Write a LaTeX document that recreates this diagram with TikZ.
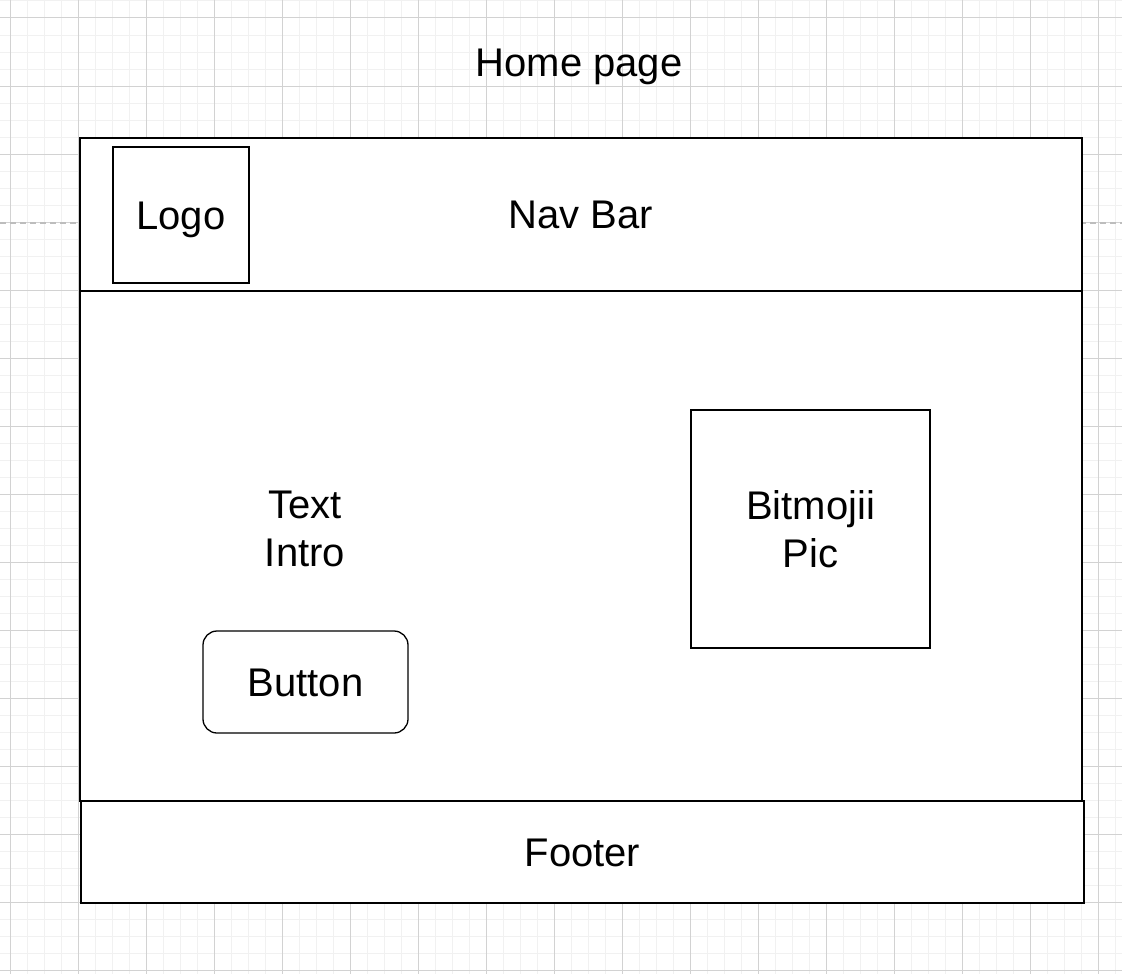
\documentclass[tikz,border=0pt]{standalone}
\usepackage{fontspec}
\setmainfont{Liberation Sans}
\newcommand\wirefont{\fontsize{40}{48}\selectfont}
\definecolor{gridminor}{HTML}{F1F1F1}
\definecolor{gridmajor}{HTML}{D2D2D2}
\definecolor{pagebreak}{HTML}{BDBDBD}
\begin{document}
\begin{tikzpicture}[x=1pt,y=-1pt,
  frame/.style={draw=black, fill=white, line width=1.3pt, inner sep=0pt, align=center, font=\wirefont},
  label/.style={inner sep=0pt, align=center, font=\wirefont},
  oneline/.style={text height=28.8pt, text depth=0pt},
  minorline/.style={draw=gridminor, line width=1pt},
  majorline/.style={draw=gridmajor, line width=1pt}]
\useasboundingbox (0,0) rectangle (1122,974);
\fill[white] (0,0) rectangle (1122,974);
% background grid
\foreach \i in {0,...,66} \draw[minorline] ({10+17.0125*(\i-1)},0) -- ++(0,974);
\foreach \i in {0,...,58} \draw[minorline] (0,{18+17.0125*(\i-1)}) -- ++(1122,0);
\foreach \i in {0,...,16} \draw[majorline] ({10+68.05*\i},0) -- ++(0,974);
\foreach \i in {0,...,14} \draw[majorline] (0,{18+68.05*\i}) -- ++(1122,0);
% page break marker
\coordinate (breakL) at (0,223);
\coordinate (breakR) at (1122,223);
\draw[pagebreak, line width=1.3pt, dash pattern=on 6pt off 4pt] (breakL) -- (breakR);
% page title
\node[label, oneline] (title) at (579,62) {Home page};
% page sections
\node[frame, oneline, minimum width=1002, minimum height=153] (nav) at (581,214.5) {Nav Bar};
\node[frame, minimum width=1002, minimum height=510] (body) at (581,546) {};
\node[frame, oneline, minimum width=1003, minimum height=102] (footer) at (582.5,852) {Footer};
% nav bar content
\node[frame, oneline, minimum width=136, minimum height=136] (logo) at (181,215) {Logo};
% body content
\node[label] (intro) at (305,529) {Text\\Intro};
\node[frame, oneline, rounded corners=14pt, minimum width=205, minimum height=102] (button) at (305.5,682) {Button};
\node[frame, minimum width=239, minimum height=238] (bitmoji) at (810.5,529) {Bitmojii\\Pic};
\end{tikzpicture}
\end{document}
